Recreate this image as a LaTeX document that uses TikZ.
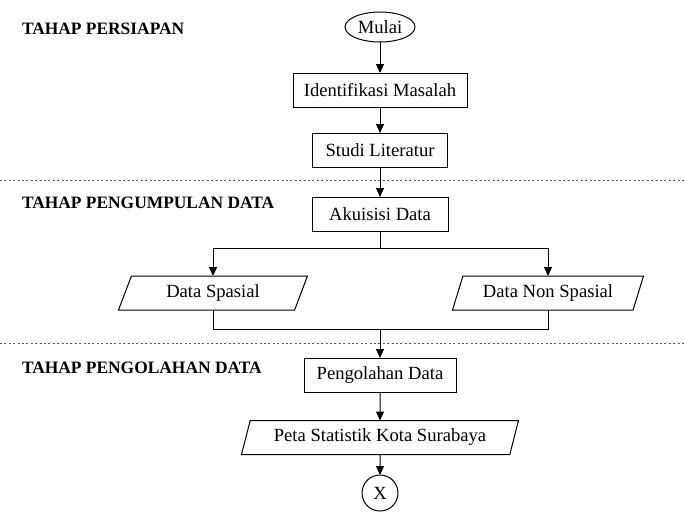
\documentclass[tikz,border=0pt]{standalone}
\usepackage{fontspec}
\setmainfont{Liberation Serif}
\usetikzlibrary{arrows.meta,shapes.geometric}
\tikzset{
  flow chart/.style={
    draw=black, line width=0.5pt,
    >={Triangle[length=4.5pt,width=4pt]},
    every node/.style={font=\fontsize{9.3}{11}\selectfont,
      text=black, inner sep=0pt, outer sep=0pt}
  },
  flow box/.style={draw, rectangle, minimum height=17pt},
  flow io/.style={draw, trapezium, trapezium stretches body,
    minimum height=17pt},
  flow stage/.style={anchor=west,
    font=\fontsize{8.7}{10}\selectfont\bfseries},
  flow guide/.style={draw=black!65, line width=0.5pt,
    dash pattern=on 1pt off 1.2pt}
}

\begin{document}
\begin{tikzpicture}[flow chart,x=0.5pt,y=-0.5pt]
    \useasboundingbox (0,0) rectangle (685,515);
    \draw[flow guide] (0,180) -- (685,180);
    \draw[flow guide] (0,343) -- (685,343);
    \node[flow stage] (persiapan) at (22,29) {TAHAP PERSIAPAN};
    \node[flow stage] (pengumpulan) at (22,203) {TAHAP PENGUMPULAN DATA};
    \node[flow stage] (pengolahanlbl) at (22,368) {TAHAP PENGOLAHAN DATA};
    \node[draw, ellipse, minimum width=35pt, minimum height=15pt]
      (mulai) at (380,27) {Mulai};
    \node[flow box, minimum width=87pt] (identifikasi) at (380,90)
      {Identifikasi Masalah};
    \node[flow box, minimum width=67.5pt] (studi) at (380,150)
      {Studi Literatur};
    \node[flow box, minimum width=68pt] (akuisisi) at (380,214)
      {Akuisisi Data};
    \node[flow io, trapezium left angle=52.6, trapezium right angle=127.4,
      minimum width=94.5pt] (spasial) at (213,293) {Data Spasial};
    \node[flow io, trapezium left angle=58.3, trapezium right angle=121.7,
      minimum width=95.5pt] (nonspasial) at (548,293) {Data Non Spasial};
    \node[flow box, minimum width=76pt] (pengolahan) at (380,375)
      {Pengolahan Data};
    \node[flow io, trapezium left angle=62.8, trapezium right angle=117.2,
      minimum width=138.5pt] (peta) at (380,437.5)
      {Peta Statistik Kota Surabaya};
    \node[draw, circle, minimum size=18pt] (selesai) at (380,493) {X};
    \coordinate (split) at (380,248);
    \coordinate (merge) at (380,329);
    \draw[->] (mulai) -- (identifikasi);
    \draw[->] (identifikasi) -- (studi);
    \draw[->] (studi) -- (akuisisi);
    \draw (akuisisi) -- (split);
    \draw[->] (split) -| (spasial);
    \draw[->] (split) -| (nonspasial);
    \draw (spasial) |- (merge);
    \draw (nonspasial) |- (merge);
    \draw[->] (merge) -- (pengolahan);
    \draw[->] (pengolahan) -- (peta);
    \draw[->] (peta) -- (selesai);
  \end{tikzpicture}
\end{document}
